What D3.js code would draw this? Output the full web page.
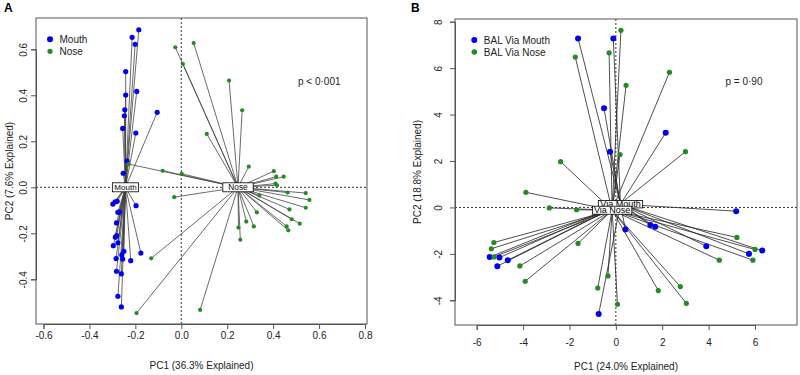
<!DOCTYPE html>
<html><head><meta charset="utf-8">
<script src="https://cdn.jsdelivr.net/npm/d3@7"></script>
<style>
body{margin:0;background:#fff;}
text{font-family:"Liberation Sans",Arial,sans-serif;}
</style></head>
<body><svg id="c" width="800" height="375"></svg>
<script>
// ---------- DATA ----------
// Panel A (Mouth vs Nose)
const mouthA_x = [-0.185,-0.214,-0.201,-0.242,-0.194,-0.242,-0.246,-0.248,-0.255,-0.105,-0.198,-0.236,-0.253,
  -0.298,-0.288,-0.279,-0.197,-0.276,-0.269,-0.282,-0.281,-0.287,-0.296,-0.276,-0.250,-0.259,-0.284,-0.255,-0.220,-0.176,-0.282,-0.261,-0.276,-0.261];
const mouthA_y = [0.685,0.652,0.622,0.503,0.417,0.401,0.337,0.311,0.256,0.326,0.236,0.114,0.061,
  -0.073,-0.063,-0.061,-0.080,-0.109,-0.107,-0.155,-0.210,-0.217,-0.254,-0.241,-0.278,-0.294,-0.310,-0.312,-0.319,-0.286,-0.365,-0.376,-0.474,-0.520];
const noseA_x = [-0.026,0.054,0.007,0.208,0.265,0.111,0.294,0.403,0.413,0.446,0.410,0.417,0.002,-0.081,-0.230,
  -0.031,0.463,0.542,0.558,0.542,0.471,0.340,0.329,0.283,0.316,0.249,0.257,0.481,0.516,0.459,0.466,0.082,-0.131,-0.195];
const noseA_y = [0.609,0.627,0.536,0.464,0.335,0.232,0.090,0.070,0.046,0.046,0.016,0.009,0.059,0.072,0.101,
  -0.043,-0.023,-0.025,-0.055,-0.089,-0.096,-0.036,-0.109,-0.149,-0.170,-0.175,-0.228,-0.139,-0.158,-0.170,-0.187,-0.533,-0.309,-0.547];
const centroidA = {Mouth:[-0.243,0.0], Nose:[0.247,0.0]};
const ticksA_x = [-0.6,-0.4,-0.2,0.0,0.2,0.4,0.6,0.8];
const ticksA_y = [-0.4,-0.2,0.0,0.2,0.4,0.6];

// Panel B (BAL via Mouth vs via Nose)
const mouthB_x = [-1.63,-0.11,-0.51,-0.25,2.15,5.19,0.41,1.49,1.70,3.90,5.74,6.31,-5.44,-5.02,-4.66,-5.11,-0.74];
const mouthB_y = [7.28,7.28,4.27,2.40,3.22,-0.16,-0.95,-0.76,-0.83,-1.67,-2.00,-1.86,-2.14,-2.16,-2.27,-2.53,-4.59];
const noseB_x = [0.22,-1.75,-0.29,-2.38,0.18,-3.88,2.31,0.44,3.00,-2.87,-1.69,-5.26,-5.37,-5.25,-1.63,-4.14,-3.91,-0.78,-0.34,0.07,5.22,6.00,5.91,4.46,1.83,2.78,3.04];
const noseB_y = [7.63,6.48,6.66,1.97,2.28,0.65,5.82,5.26,2.40,-0.02,-0.10,-1.51,-1.78,-2.13,-1.55,-2.52,-3.18,-3.47,-2.95,-4.17,-1.29,-1.81,-2.27,-2.27,-3.58,-3.41,-4.13];
const centroidB = {Mouth:[0.20,0.14], Nose:[-0.16,-0.12]};
const ticksB_x = [-6,-4,-2,0,2,4,6];
const ticksB_y = [-4,-2,0,2,4,6,8];

const BLUE = "#0000f0", GREEN = "#228b22";
const svg = d3.select("#c");

function panel(cfg){
  const g = svg.append("g");
  const x = d3.scaleLinear().domain(cfg.xdom).range(cfg.xrng);
  const y = d3.scaleLinear().domain(cfg.ydom).range(cfg.yrng);
  const [L,R,T,B] = cfg.box;
  // zero lines
  g.append("line").attr("x1",x(0)).attr("x2",x(0)).attr("y1",T).attr("y2",B)
    .attr("stroke","#000").attr("stroke-width",0.8).attr("stroke-dasharray","2,2");
  g.append("line").attr("x1",L).attr("x2",R).attr("y1",y(0)).attr("y2",y(0))
    .attr("stroke","#000").attr("stroke-width",0.8).attr("stroke-dasharray","2,2");
  // spider lines
  cfg.groups.forEach(gr=>{
    const c = gr.cent;
    g.append("g").selectAll("line").data(d3.range(gr.xs.length)).join("line")
      .attr("x1",x(c[0])).attr("y1",y(c[1]))
      .attr("x2",i=>x(gr.xs[i])).attr("y2",i=>y(gr.ys[i]))
      .attr("stroke",cfg.lineColor).attr("stroke-width",0.8);
  });
  // points
  cfg.groups.forEach(gr=>{
    g.append("g").selectAll("circle").data(d3.range(gr.xs.length)).join("circle")
      .attr("cx",i=>x(gr.xs[i])).attr("cy",i=>y(gr.ys[i])).attr("r",gr.r).attr("fill",gr.color);
  });
  // centroid labels
  cfg.groups.forEach(gr=>{
    const c = gr.cent;
    const lg = g.append("g");
    const t = lg.append("text").attr("x",x(c[0])).attr("y",y(c[1])).attr("text-anchor","middle")
      .attr("dominant-baseline","central").attr("font-size",gr.lfs).text(gr.label);
    const w = t.node().getComputedTextLength() + 2*gr.pad;
    lg.insert("rect","text").attr("x",x(c[0])-w/2).attr("y",y(c[1])-gr.lh/2+gr.ldy).attr("width",w).attr("height",gr.lh)
      .attr("fill","#fff").attr("stroke","#000").attr("stroke-width",0.8);
    t.attr("y",y(c[1])+gr.ldy);
  });
  // box
  g.append("rect").attr("x",L).attr("y",T).attr("width",R-L).attr("height",B-T)
    .attr("fill","none").attr("stroke","#555").attr("stroke-width",1);
  // axes
  const ax = g.append("g").attr("transform",`translate(0,${B+cfg.xAxOff})`)
    .call(d3.axisBottom(x).tickValues(cfg.xt).tickFormat(cfg.fmt).tickSize(5).tickPadding(cfg.xPad));
  const ay = g.append("g").attr("transform",`translate(${L-cfg.yAxOff},0)`)
    .call(d3.axisLeft(y).tickValues(cfg.yt).tickFormat(cfg.fmt).tickSize(5));
  [ax,ay].forEach(a=>{
    a.select(".domain").attr("stroke","#555");
    a.selectAll(".tick line").attr("stroke","#555");
    a.selectAll("text").attr("font-size",10).attr("fill","#222").attr("font-family","Liberation Sans, Arial, sans-serif");
  });
  ay.selectAll("text").attr("x",null).attr("dy",null).attr("text-anchor","middle")
    .attr("transform",`translate(${-cfg.yLab},0) rotate(-90)`);
  // titles
  g.append("text").attr("x",(L+R)/2).attr("y",cfg.xtY).attr("text-anchor","middle").attr("font-size",10)
    .attr("fill","#222").text(cfg.xtitle);
  g.append("text").attr("transform",`translate(${cfg.ytX},${(T+B)/2}) rotate(-90)`).attr("text-anchor","middle")
    .attr("font-size",10).attr("fill","#222").text(cfg.ytitle);
  g.append("text").attr("x",cfg.letter[1]).attr("y",12).attr("font-size",12).attr("font-weight","bold").text(cfg.letter[0]);
  // legend
  cfg.groups.forEach((gr,i)=>{
    g.append("circle").attr("cx",cfg.leg[0]).attr("cy",cfg.leg[1]+i*12).attr("r",gr.lr).attr("fill",gr.color);
    g.append("text").attr("x",cfg.leg[0]+9.5).attr("y",cfg.leg[1]+i*12).attr("dominant-baseline","central")
      .attr("font-size",10).attr("fill","#222").text(gr.legend);
  });
  g.append("text").attr("x",cfg.p[0]).attr("y",cfg.p[1]).attr("dominant-baseline","central")
    .attr("font-size",10).attr("fill","#222").text(cfg.p[2]);
}

panel({
  xdom:[-0.6,0.8], xrng:[43.5,365], ydom:[-0.4,0.6], yrng:[279.3,49.3],
  box:[36,367,18,324], xt:ticksA_x, yt:ticksA_y, fmt:d=>d.toFixed(1),
  xAxOff:0, yAxOff:0, xPad:3, yLab:9.5, xtY:369, ytX:12.5,
  xtitle:"PC1 (36.3% Explained)", ytitle:"PC2 (7.6% Explained)", letter:["A",4],
  leg:[50,39.3], p:[298,81,"p < 0·001"], lineColor:"#444",
  groups:[
    {xs:mouthA_x, ys:mouthA_y, cent:centroidA.Mouth, color:BLUE, r:2.6, lr:3, label:"Mouth", legend:"Mouth", lfs:8, pad:2, lh:9, ldy:0},
    {xs:noseA_x, ys:noseA_y, cent:centroidA.Nose, color:GREEN, r:2.1, lr:2.6, label:"Nose", legend:"Nose", lfs:8.3, pad:5.5, lh:9, ldy:0}
  ]
});
panel({
  xdom:[-6,6], xrng:[476.7,755], ydom:[-4,8], yrng:[300.3,21.7],
  box:[455,797,19,325], xt:ticksB_x, yt:ticksB_y, fmt:d=>String(d),
  xAxOff:0, yAxOff:0, xPad:9, yLab:13, xtY:370, ytX:420.5,
  xtitle:"PC1 (24.0% Explained)", ytitle:"PC2 (18.8% Explained)", letter:["B",411],
  leg:[474.3,40], p:[725.5,81.3,"p = 0·90"], lineColor:"#222",
  groups:[
    {xs:mouthB_x, ys:mouthB_y, cent:centroidB.Mouth, color:BLUE, r:3, lr:3, label:"Via Mouth", legend:"BAL Via Mouth", lfs:9, pad:2, lh:7.5, ldy:0},
    {xs:noseB_x, ys:noseB_y, cent:centroidB.Nose, color:GREEN, r:2.6, lr:2.8, label:"Via Nose", legend:"BAL Via Nose", lfs:9, pad:1.5, lh:8, ldy:0}
  ]
});
</script></body></html>
